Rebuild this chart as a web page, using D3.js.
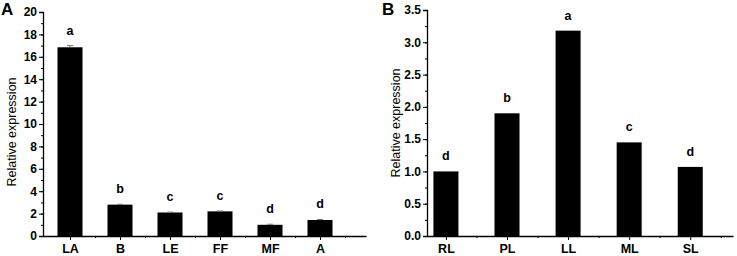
<!DOCTYPE html>
<html>
<head>
<meta charset="utf-8">
<script src="https://cdn.jsdelivr.net/npm/d3@7"></script>
<style>
  body { margin: 0; background: #fff; }
  text { font-family: Arial, "Liberation Sans", sans-serif; }
</style>
</head>
<body>
<div id="chart"></div>
<script>
// panel A
const catsA = ['LA', 'B', 'LE', 'FF', 'MF', 'A'];
const valsA = [16.85, 2.8, 2.1, 2.2, 1.0, 1.43];
const errsA = [0.15, 0.03, 0.03, 0.03, 0.05, 0.05];
const lettersA = ['a', 'b', 'c', 'c', 'd', 'd'];
const ticksA = [0, 2, 4, 6, 8, 10, 12, 14, 16, 18, 20];

// panel B
const catsB = ['RL', 'PL', 'LL', 'ML', 'SL'];
const valsB = [1.0, 1.9, 3.18, 1.45, 1.07];
const lettersB = ['d', 'b', 'a', 'c', 'd'];
const ticksB = [0, 0.5, 1.0, 1.5, 2.0, 2.5, 3.0, 3.5];

const svg = d3.select('#chart').append('svg')
    .attr('width', 737)
    .attr('height', 256);

function panel(opts) {
    const g = svg.append('g');
    const x = d3.scaleLinear().domain(opts.xDomain).range(opts.xRange);
    const y = d3.scaleLinear().domain([0, opts.yMax]).range([236, opts.yTop]);
    const n = opts.cats.length;

    // y axis with minor ticks
    const minor = d3.range(0, opts.yMax + 1e-9, opts.minorStep);
    g.append('g')
        .attr('transform', `translate(${opts.xRange[0]},0)`)
        .call(d3.axisLeft(y).tickValues(minor).tickSize(2).tickFormat(''))
        .call(a => a.select('.domain').remove());
    g.append('g')
        .attr('transform', `translate(${opts.xRange[0]},0)`)
        .call(d3.axisLeft(y).tickValues(opts.ticks).tickSize(4).tickPadding(2)
            .tickFormat(opts.fmt))
        .call(a => a.selectAll('text').attr('font-size', 12).attr('font-weight', 'bold')
            .attr('font-family', 'Arial, "Liberation Sans", sans-serif').attr('fill', '#000'))
        .call(a => a.select('.domain').attr('stroke-width', 1.3));

    // x axis
    const mids = d3.range(n).map(i => i + 0.5);
    g.append('g')
        .attr('transform', 'translate(0,236)')
        .call(d3.axisBottom(x).tickValues(mids).tickSize(2).tickSizeOuter(0).tickFormat(''))
        .call(a => a.select('.domain').attr('stroke-width', 1.3));
    g.append('g')
        .attr('transform', 'translate(0,236)')
        .call(d3.axisBottom(x).tickValues(d3.range(n)).tickSize(4).tickPadding(4)
            .tickFormat(i => opts.cats[i]))
        .call(a => a.select('.domain').remove())
        .call(a => a.selectAll('text').attr('font-size', 12.5).attr('font-weight', 'bold')
            .attr('font-family', 'Arial, "Liberation Sans", sans-serif').attr('fill', '#000'));

    // bars
    g.selectAll('rect.bar')
        .data(opts.vals)
        .enter().append('rect')
        .attr('class', 'bar')
        .attr('x', (d, i) => x(i) - 12.5)
        .attr('width', 25)
        .attr('y', d => y(d))
        .attr('height', d => y(0) - y(d))
        .attr('fill', '#000');

    // error bars
    if (opts.errs) {
        const eb = g.selectAll('g.err')
            .data(opts.vals)
            .enter().append('g')
            .attr('class', 'err')
            .attr('stroke', '#777')
            .attr('stroke-width', 1);
        eb.append('line')
            .attr('x1', (d, i) => x(i)).attr('x2', (d, i) => x(i))
            .attr('y1', d => y(d)).attr('y2', (d, i) => y(d + opts.errs[i]));
        eb.append('line')
            .attr('x1', (d, i) => x(i) - 3).attr('x2', (d, i) => x(i) + 3)
            .attr('y1', (d, i) => y(d + opts.errs[i])).attr('y2', (d, i) => y(d + opts.errs[i]));
    }

    // significance letters
    g.selectAll('text.sig')
        .data(opts.vals)
        .enter().append('text')
        .attr('class', 'sig')
        .attr('x', (d, i) => x(i))
        .attr('y', (d, i) => y(d + (opts.errs ? opts.errs[i] : 0)) - 11)
        .attr('text-anchor', 'middle')
        .attr('font-size', 12.5)
        .attr('font-weight', 'bold')
        .text((d, i) => opts.letters[i]);

    // y label
    g.append('text')
        .attr('transform', `translate(${opts.labelX},${opts.labelY}) rotate(-90)`)
        .attr('text-anchor', 'middle')
        .attr('font-size', 12.5)
        .text('Relative expression');

    // panel letter
    g.append('text')
        .attr('x', opts.tagX)
        .attr('y', 15)
        .attr('font-size', 17)
        .attr('font-weight', 'bold')
        .text(opts.tag);
}

panel({
    cats: catsA, vals: valsA, errs: errsA, letters: lettersA, ticks: ticksA,
    yMax: 20, yTop: 12, minorStep: 1, fmt: d3.format('d'),
    xDomain: [-0.54, 5.92], xRange: [43, 366],
    labelX: 16, labelY: 132, tag: 'A', tagX: 1
});

panel({
    cats: catsB, vals: valsB, letters: lettersB, ticks: ticksB,
    yMax: 3.5, yTop: 10, minorStep: 0.25, fmt: d3.format('.1f'),
    xDomain: [-0.31, 4.7], xRange: [427, 733],
    labelX: 400, labelY: 123, tag: 'B', tagX: 382
});
</script>
</body>
</html>
